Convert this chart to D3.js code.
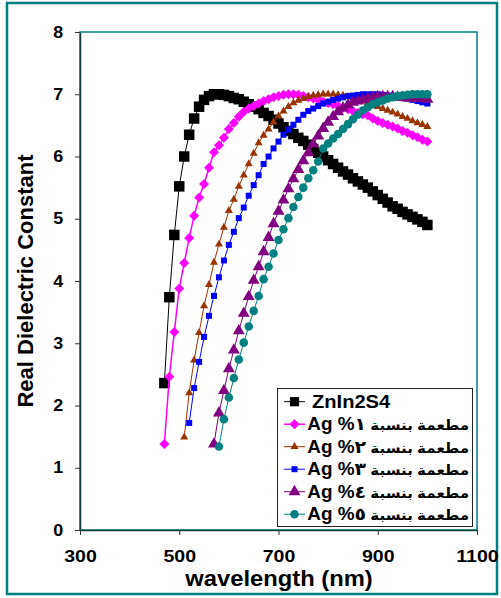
<!DOCTYPE html>
<html>
<head>
<meta charset="utf-8">
<script src="https://cdn.jsdelivr.net/npm/d3@7"></script>
<style>
  body { margin: 0; background: #fff; }
  text { font-family: "Liberation Sans", Arial, "DejaVu Sans", sans-serif; font-weight: bold; fill: #000; }
</style>
</head>
<body>
<div id="chart"></div>
<script>
// wavelength grid (nm), every series ends at 1000
const wavelengths = [470, 480, 490, 500, 510, 520, 530, 540, 550, 560,
  570, 580, 590, 600, 610, 620, 630, 640, 650, 660,
  670, 680, 690, 700, 710, 720, 730, 740, 750, 760,
  770, 780, 790, 800, 810, 820, 830, 840, 850, 860,
  870, 880, 890, 900, 910, 920, 930, 940, 950, 960,
  970, 980, 990, 1000];

const pure = [2.36, 3.74, 4.74, 5.52, 6.00, 6.35, 6.61, 6.80, 6.91, 6.97,
  7.00, 7.00, 6.99, 6.97, 6.94, 6.92, 6.88, 6.84, 6.80, 6.76,
  6.70, 6.65, 6.59, 6.53, 6.47, 6.41, 6.36, 6.30, 6.25, 6.19,
  6.12, 6.06, 6.00, 5.94, 5.88, 5.82, 5.76, 5.71, 5.65, 5.60,
  5.55, 5.50, 5.44, 5.38, 5.32, 5.26, 5.20, 5.16, 5.11, 5.07,
  5.03, 4.99, 4.95, 4.90];

const ag1 = [1.38, 2.46, 3.18, 3.88, 4.29, 4.69, 5.05, 5.34, 5.56, 5.82,
  6.07, 6.18, 6.30, 6.44, 6.54, 6.64, 6.72, 6.77, 6.81, 6.85,
  6.89, 6.92, 6.95, 6.97, 6.99, 7.00, 7.00, 6.99, 6.97, 6.95,
  6.93, 6.91, 6.88, 6.86, 6.84, 6.81, 6.78, 6.76, 6.73, 6.70,
  6.68, 6.66, 6.61, 6.57, 6.54, 6.51, 6.48, 6.45, 6.41, 6.38,
  6.34, 6.31, 6.27, 6.24];

const ag2 = [1.49, 2.20, 2.73, 3.17, 3.60, 3.94, 4.30, 4.59, 4.86, 5.13,
  5.31, 5.52, 5.70, 5.88, 6.05, 6.22, 6.34, 6.44, 6.55, 6.65,
  6.73, 6.80, 6.86, 6.90, 6.93, 6.96, 6.98, 6.99, 7.00, 7.00,
  7.00, 6.99, 6.98, 6.96, 6.94, 6.92, 6.89, 6.86, 6.83, 6.80,
  6.77, 6.74, 6.71, 6.68, 6.64, 6.61, 6.57, 6.54, 6.51, 6.48];

const ag3 = [1.72, 2.28, 2.70, 3.10, 3.44, 3.76, 4.06, 4.33, 4.58, 4.79,
  5.01, 5.18, 5.37, 5.54, 5.70, 5.88, 6.00, 6.13, 6.24, 6.35,
  6.43, 6.51, 6.59, 6.67, 6.73, 6.77, 6.81, 6.85, 6.88, 6.91,
  6.93, 6.95, 6.97, 6.98, 6.99, 7.00, 7.00, 7.00, 7.00, 6.99,
  6.98, 6.97, 6.96, 6.95, 6.93, 6.91, 6.89, 6.87, 6.85];

const ag4 = [1.38, 1.88, 2.24, 2.59, 2.89, 3.20, 3.48, 3.75, 4.01, 4.23,
  4.47, 4.70, 4.92, 5.12, 5.30, 5.48, 5.64, 5.79, 5.93, 6.06,
  6.20, 6.33, 6.45, 6.55, 6.64, 6.72, 6.78, 6.83, 6.87, 6.89,
  6.91, 6.93, 6.95, 6.96, 6.96, 6.96, 6.96, 6.95, 6.95, 6.94,
  6.94, 6.93, 6.93, 6.92];

const ag5 = [1.34, 1.78, 2.13, 2.44, 2.74, 3.01, 3.27, 3.52, 3.76, 4.03,
  4.23, 4.44, 4.66, 4.83, 5.01, 5.19, 5.35, 5.50, 5.65, 5.78,
  5.92, 6.13, 6.21, 6.29, 6.36, 6.44, 6.52, 6.60, 6.67, 6.74,
  6.79, 6.84, 6.87, 6.90, 6.93, 6.95, 6.97, 6.98, 6.99, 7.00,
  7.00, 7.00, 7.00];

// legend labels: Arabic words, then the doping level
const seriesNames = ["ZnIn2S4", "مطعمة بنسبة", "مطعمة بنسبة", "مطعمة بنسبة", "مطعمة بنسبة", "مطعمة بنسبة"];
const dopingLabels = ["", "١% Ag", "٢% Ag", "٣% Ag", "٤% Ag", "٥% Ag"];

const xTicks = [300, 500, 700, 900, 1100];
const yTicks = [0, 1, 2, 3, 4, 5, 6, 7, 8];

// look of each series
const styles = [
  { color: "#000000", shape: "square",   size: 110, legendSize: 85, lw: 1 },
  { color: "#FF00FF", shape: "diamond",  size: 50,  legendSize: 50, lw: 1.5 },
  { color: "#993300", shape: "triangle", size: 28,  legendSize: 28, lw: 1 },
  { color: "#0000FF", shape: "square",   size: 36,  legendSize: 36, lw: 1 },
  { color: "#800080", shape: "triangle", size: 62,  legendSize: 62, lw: 1 },
  { color: "#008080", shape: "circle",   size: 57,  legendSize: 57, lw: 1 }
];
const allValues = [pure, ag1, ag2, ag3, ag4, ag5];

const width = 501, height = 598;
const teal = "#008080";
const axisColor = "#123c3c";

const diamond = {
  draw(ctx, size) {
    const r = Math.sqrt(size / 2);
    ctx.moveTo(0, -r); ctx.lineTo(r, 0); ctx.lineTo(0, r); ctx.lineTo(-r, 0); ctx.closePath();
  }
};
const shapes = { square: d3.symbolSquare, diamond: diamond, triangle: d3.symbolTriangle, circle: d3.symbolCircle };

const svg = d3.select("#chart")
  .append("svg")
  .attr("width", width)
  .attr("height", height);

// outer frame
svg.append("rect")
  .attr("x", 7).attr("y", 3)
  .attr("width", 490).attr("height", 591)
  .attr("fill", "none")
  .attr("stroke", teal)
  .attr("stroke-width", 2.5);

const xScale = d3.scaleLinear().domain([300, 1100]).range([80, 477]);
const yScale = d3.scaleLinear().domain([0, 8]).range([530, 32]);

// plot area border
svg.append("rect")
  .attr("x", 80).attr("y", 32)
  .attr("width", 397).attr("height", 498)
  .attr("fill", "none")
  .attr("stroke", teal)
  .attr("stroke-width", 1.5);

const xAxis = svg.append("g")
  .attr("transform", "translate(0,530)")
  .call(d3.axisBottom(xScale).tickValues(xTicks).tickFormat(d3.format("d"))
    .tickSize(5).tickSizeOuter(0).tickPadding(15));
xAxis.selectAll("text")
  .style("font-size", "17px")
  .attr("transform", "scale(1.15,1)");

const yAxis = svg.append("g")
  .attr("transform", "translate(80,0)")
  .call(d3.axisLeft(yScale).tickValues(yTicks).tickSize(5).tickSizeOuter(0).tickPadding(10));
yAxis.selectAll("text")
  .style("font-size", "16px")
  .attr("transform", "scale(1.12,1)");

[xAxis, yAxis].forEach(a => {
  a.select(".domain").attr("stroke", axisColor).attr("stroke-width", 1.5);
  a.selectAll(".tick line").attr("stroke", "#333");
  a.attr("font-family", null).attr("font-size", null);
});

// axis titles
svg.append("text")
  .attr("transform", "translate(279,586) scale(1.08,1)")
  .attr("text-anchor", "middle")
  .style("font-size", "22px")
  .text("wavelength (nm)");

svg.append("text")
  .attr("transform", "translate(33,281) rotate(-90)")
  .attr("text-anchor", "middle")
  .style("font-size", "22px")
  .text("Real Dielectric Constant");

const line = d3.line()
  .x(d => xScale(d.x))
  .y(d => yScale(d.y));

allValues.forEach((vals, i) => {
  const offset = wavelengths.length - vals.length;
  const pts = vals.map((v, j) => ({ x: wavelengths[offset + j], y: v }));
  const st = styles[i];
  const g = svg.append("g");
  g.append("path")
    .datum(pts)
    .attr("d", line)
    .attr("fill", "none")
    .attr("stroke", st.color)
    .attr("stroke-width", st.lw);
  g.selectAll("path.mark")
    .data(pts)
    .enter()
    .append("path")
    .attr("class", "mark")
    .attr("transform", d => `translate(${xScale(d.x)},${yScale(d.y)})`)
    .attr("d", d3.symbol(shapes[st.shape], st.size))
    .attr("fill", st.color);
});

// legend
const legend = svg.append("g");
legend.append("rect")
  .attr("x", 277.5).attr("y", 388.5)
  .attr("width", 195).attr("height", 138)
  .attr("fill", "#fff")
  .attr("stroke", "#222")
  .attr("stroke-width", 1);

seriesNames.forEach((name, i) => {
  const cy = 401.7 + i * 22.5;
  const st = styles[i];
  legend.append("line")
    .attr("x1", 284).attr("x2", 305)
    .attr("y1", cy).attr("y2", cy)
    .attr("stroke", st.color)
    .attr("stroke-width", st.lw);
  legend.append("path")
    .attr("transform", `translate(294.5,${cy})`)
    .attr("d", d3.symbol(shapes[st.shape], st.legendSize))
    .attr("fill", st.color);
  if (i === 0) {
    legend.append("text")
      .attr("transform", `translate(312,${cy + 6}) scale(1.15,1)`)
      .style("font-size", "17.5px")
      .text(name);
  } else {
    // one right-to-left label: Arabic words, then "n% Ag"
    const t = legend.append("text")
      .attr("transform", `translate(469,${cy + 6}) scale(1.08,1)`)
      .attr("direction", "rtl")
      .style("direction", "rtl")
      .attr("text-anchor", "start")
      .style("font-size", "17.5px");
    t.append("tspan")
      .style("font-size", "14px")
      .text(name + " ");
    t.append("tspan")
      .text(dopingLabels[i]);
  }
});
</script>
</body>
</html>
